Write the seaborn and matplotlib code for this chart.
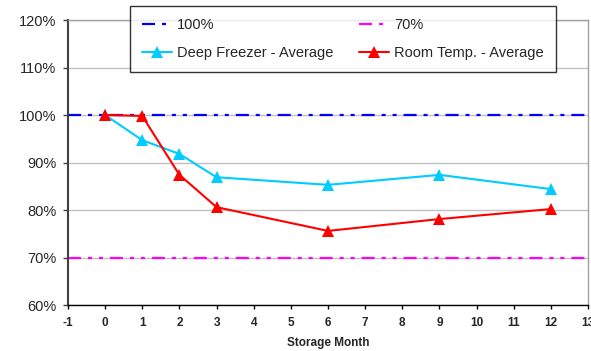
import matplotlib
matplotlib.use("Agg")
import matplotlib.pyplot as plt
import seaborn as sns
import pandas as pd
from matplotlib.lines import Line2D

months = [0, 1, 2, 3, 6, 9, 12]
deep_freezer = [100.0, 94.7, 91.8, 86.9, 85.3, 87.4, 84.4]
room_temp = [100.0, 99.8, 87.4, 80.6, 75.6, 78.1, 80.2]
ref_100 = 100
ref_70 = 70
y_ticks = [60, 70, 80, 90, 100, 110, 120]
x_ticks = list(range(-1, 14))

sns.set_theme(style="white")
plt.rcParams['font.family'] = ['Liberation Sans', 'DejaVu Sans']
plt.rcParams['lines.scale_dashes'] = False

DASH = (9.4, 5, 2.9, 5, 2.9, 5)
C_DEEP = "#00ccff"
C_ROOM = "#ff0000"

df = pd.DataFrame({
    "month": months * 2,
    "value": deep_freezer + room_temp,
    "series": ["Deep Freezer - Average"] * len(months) + ["Room Temp. - Average"] * len(months),
})

fig = plt.figure(figsize=(5.91, 3.51), dpi=100)
ax = fig.add_axes([0.115, 0.131, 0.88, 0.812])

ax.axhline(ref_100, color="#0000ff", lw=1.6, dashes=DASH, zorder=2)
ax.axhline(ref_70, color="#ff00ff", lw=1.6, dashes=DASH, zorder=2)

sns.lineplot(data=df, x="month", y="value", hue="series",
             palette={"Deep Freezer - Average": C_DEEP, "Room Temp. - Average": C_ROOM},
             marker="^", markersize=8, markeredgewidth=0, lw=1.5, ax=ax, legend=False, zorder=3)

ax.set_xlim(-1, 13)
ax.set_ylim(60, 120)
ax.set_xticks(x_ticks)
ax.set_xticklabels([str(t) for t in x_ticks], fontsize=8.5, fontweight="bold")
ax.set_yticks(y_ticks)
ax.set_yticklabels([f"{t}%" for t in y_ticks], fontsize=10.5)
ax.set_xlabel("Storage Month", fontsize=8.5, fontweight="bold", labelpad=6)
ax.set_ylabel("")
ax.grid(axis="y", color="#c0c0c0", lw=1)
ax.set_axisbelow(True)
for s in ["top", "right"]:
    ax.spines[s].set_color("#a0a0a0")
    ax.spines[s].set_linewidth(1)
ax.spines["left"].set_color("#404040")
ax.spines["left"].set_linewidth(1.5)
ax.spines["bottom"].set_color("black")
ax.spines["bottom"].set_linewidth(1)
ax.tick_params(axis="x", direction="out", length=3, width=1, color="black", pad=5.5, bottom=True)
ax.tick_params(axis="y", direction="out", length=3.5, width=1, color="#404040", pad=5, left=True)

handles = [
    Line2D([], [], color="#0000ff", lw=1.6, dashes=DASH),
    Line2D([], [], color="#ff00ff", lw=1.6, dashes=DASH),
    Line2D([], [], color=C_DEEP, lw=1.5, marker="^", markersize=8, markeredgewidth=0),
    Line2D([], [], color=C_ROOM, lw=1.5, marker="^", markersize=8, markeredgewidth=0),
]
labels = ["100%", "70%", "Deep Freezer - Average", "Room Temp. - Average"]
order = [0, 2, 1, 3]
leg = fig.legend([handles[i] for i in order], [labels[i] for i in order], ncol=2,
                 loc="upper left", bbox_to_anchor=(130 / 591, 1 - 6 / 351), borderaxespad=0,
                 frameon=True, fancybox=False, edgecolor="black", fontsize=10.5,
                 handlelength=2.05, columnspacing=1.8, borderpad=0.8, labelspacing=1.0,
                 handletextpad=0.35)
leg.get_frame().set_linewidth(1)

fig.savefig("out.png", dpi=100)
